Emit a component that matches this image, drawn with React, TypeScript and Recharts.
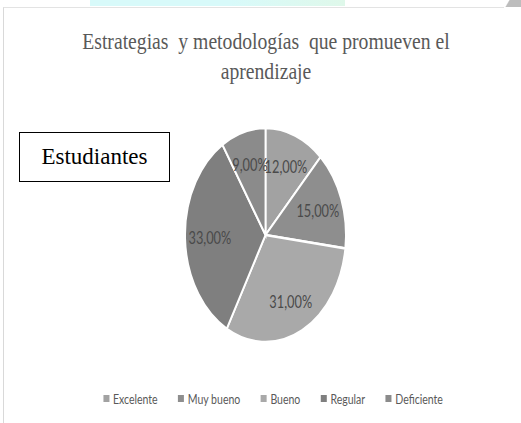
import { PieChart, Pie, Cell, Legend } from "recharts";

const categories = ["Excelente", "Muy bueno", "Bueno", "Regular", "Deficiente"];
const values = [12, 15, 31, 33, 9];
const colors = ["#a2a2a2", "#8e8e8e", "#a9a9a9", "#7f7f7f", "#8b8b8b"];

const data = categories.map((name, i) => ({ name, value: values[i], color: colors[i] }));

const RAD = Math.PI / 180;
const SX = 0.752; // reference is squeezed horizontally
const CX = 265.5;
const CY = 235;
const R = 107;

const fmt = (v: number) => v.toFixed(2).replace(".", ",") + "%";

function renderLabel(props: any) {
    const { cx, cy, midAngle, value } = props;
    const r = 74;
    const x = cx + r * Math.cos(-midAngle * RAD);
    const y = cy + r * Math.sin(-midAngle * RAD);
    return (
        <text
            x={x}
            y={y}
            textAnchor="middle"
            dominantBaseline="central"
            fill="#4a4a4a"
            fontSize={17}
            fontFamily="Lato, sans-serif"
        >
            {fmt(value)}
        </text>
    );
}

function LegendContent(props: any) {
    const payload = [...(props.payload || [])].sort(
        (a: any, b: any) => categories.indexOf(a.value) - categories.indexOf(b.value)
    );
    return (
        <div
            style={{
                display: "flex",
                justifyContent: "center",
                gap: 27,
                fontFamily: "Lato, sans-serif",
                fontSize: 14,
                color: "#595959",
                paddingLeft: 30,
            }}
        >
            {payload.map((p: any) => (
                <div key={p.value} style={{ display: "flex", alignItems: "center" }}>
                    <span
                        style={{
                            width: 8,
                            height: 7,
                            background: p.color,
                            marginRight: 5,
                            display: "inline-block",
                        }}
                    />
                    <span>{p.value}</span>
                </div>
            ))}
        </div>
    );
}

export default function App() {
    return (
        <div
            style={{
                position: "fixed",
                left: 0,
                top: 0,
                width: 521,
                height: 423,
                background: "#fff",
                overflow: "hidden",
            }}
        >
            {/* page decorations */}
            <div
                style={{
                    position: "absolute",
                    left: 90,
                    top: 0,
                    width: 255,
                    height: 6,
                    background: "linear-gradient(90deg, #d8fafa 0%, #d8fafa 55%, #dff8ea 100%)",
                }}
            />
            <div
                style={{
                    position: "absolute",
                    left: 3,
                    top: 7,
                    width: 500,
                    height: 416,
                    borderLeft: "1px solid #d9d9d9",
                    borderTop: "1px solid #e3e3e3",
                }}
            />
            <div
                style={{
                    position: "absolute",
                    left: 498,
                    top: 0,
                    width: 23,
                    height: 7,
                    background: "linear-gradient(120deg, #fff 40%, #bdbdbd 45%, #bdbdbd 100%)",
                }}
            />

            {/* title */}
            <div
                style={{
                    position: "absolute",
                    left: 0,
                    top: 27,
                    width: 532,
                    textAlign: "center",
                    fontFamily: "'Liberation Serif', 'Times New Roman', serif",
                    fontSize: 23,
                    lineHeight: "30px",
                    color: "#595959",
                    transform: "scaleX(0.855)",
                    transformOrigin: "266px 0",
                    whiteSpace: "pre",
                }}
            >
                {"Estrategias  y metodologías  que promueven el\naprendizaje"}
            </div>

            {/* pie, squeezed horizontally like the reference */}
            <div
                style={{
                    position: "absolute",
                    left: 0,
                    top: 0,
                    transform: `scaleX(${SX})`,
                    transformOrigin: `${CX}px 0`,
                }}
            >
                <PieChart width={521} height={423} margin={{ top: 0, right: 0, bottom: 0, left: 0 }}>
                    <Pie
                        data={data}
                        dataKey="value"
                        nameKey="name"
                        cx={CX}
                        cy={CY}
                        outerRadius={R}
                        startAngle={90}
                        endAngle={-270}
                        stroke="#ffffff"
                        strokeWidth={2.5}
                        label={renderLabel}
                        labelLine={false}
                        isAnimationActive={false}
                    >
                        {data.map((d) => (
                            <Cell key={d.name} fill={d.color} />
                        ))}
                    </Pie>
                    <Legend
                        content={<LegendContent />}
                        wrapperStyle={{ top: 390, left: 0, width: 521 }}
                    />
                </PieChart>
            </div>

            {/* series box */}
            <div
                style={{
                    position: "absolute",
                    left: 19,
                    top: 132,
                    width: 149,
                    height: 48,
                    border: "1px solid #000",
                    display: "flex",
                    alignItems: "center",
                    justifyContent: "center",
                    fontFamily: "'Liberation Serif', 'Times New Roman', serif",
                    fontSize: 23,
                    color: "#000",
                    background: "#fff",
                }}
            >
                Estudiantes
            </div>
        </div>
    );
}
